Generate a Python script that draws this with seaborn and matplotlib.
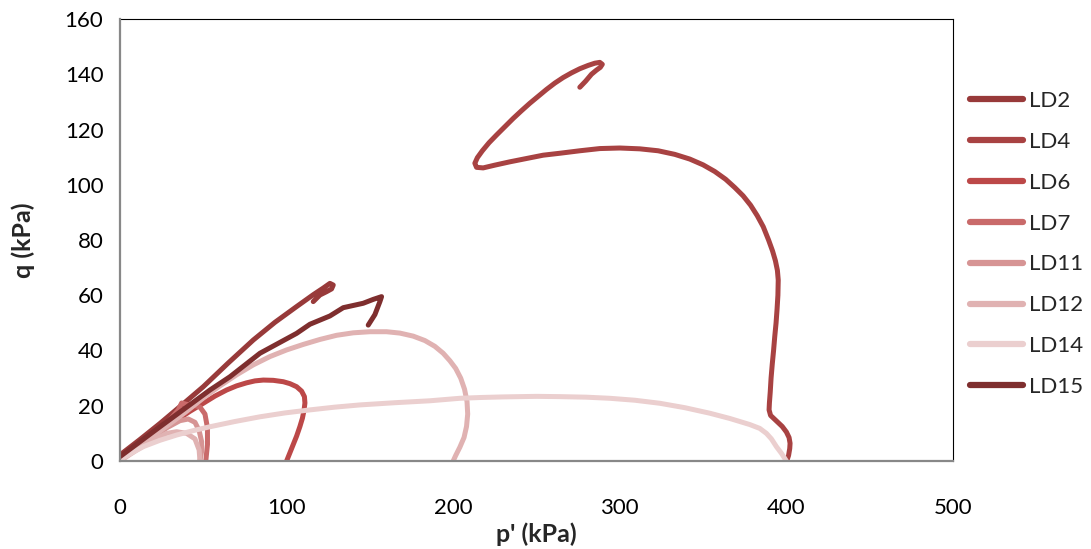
import numpy as np
import pandas as pd
import matplotlib
matplotlib.use("Agg")
import matplotlib.pyplot as plt
import seaborn as sns

# ---------------- data ----------------
series_names = ["LD2", "LD4", "LD6", "LD7", "LD11", "LD12", "LD14", "LD15"]
series_colors = ["#983a3a", "#a84242", "#bc4848", "#c96a6a", "#d69494",
                 "#e0b2b2", "#ebcfcf", "#7e2e2e"]

ld2_p = [0, 12, 24, 37, 50, 65, 80, 93, 106, 116, 122, 126, 128, 127, 124, 120, 116]
ld2_q = [2.2, 7.8, 13.6, 20.2, 26.9, 35.5, 43.8, 50.2, 55.9, 60.2, 62.6, 64.3, 63.7, 62.3, 61.3, 60.1, 57.7]

ld4_p = [400.2, 401.3, 402, 402.2, 401.6, 400, 397.5, 394, 390.5, 389.6, 389.8, 390.3, 390.8,
         391.5, 392.3, 393, 393.8, 394.4, 394.9, 395.1, 394.6, 393.4, 391.7, 389.3, 386.1,
         382.5, 378.5, 374, 369, 363.5, 357, 350, 342, 333, 323, 312, 300, 288, 276, 264,
         254, 244, 234, 225, 218, 214, 213, 214.5, 217.5, 221.5, 226, 231, 236, 241, 246,
         251, 256, 261, 266, 271, 276, 281, 285, 288, 289.5, 288.3, 286, 283, 279.5, 276]
ld4_q = [0, 2, 4.5, 6.4, 8.5, 10.5, 12.5, 14.5, 16.5, 18.5, 21, 25, 30,
         35, 40, 45, 50, 55, 60, 65.5, 69, 72.5, 76, 80, 84.8,
         88.8, 92.6, 96, 99, 102, 104.8, 107.2, 109.3, 111, 112.3, 113, 113.3, 113.1, 112.3, 111.4,
         110.7, 109.5, 108.3, 107.1, 106.1, 106.3, 107.8, 109.8, 112.3, 115.2, 118, 121, 124, 126.8, 129.5,
         132, 134.5, 136.8, 138.8, 140.5, 142, 143.2, 144, 144.3, 143.6, 142.5, 141.5, 140, 137.5, 135.3]

ld6_p = [0, 7, 14, 24, 34, 42, 50, 57, 64, 70, 76, 81, 86, 92, 98, 102, 106, 109, 110.7,
         111, 110.5, 109.5, 108, 106, 104, 102, 100]
ld6_q = [1, 4.3, 7.6, 11.5, 14.8, 18, 20.9, 23.5, 25.7, 27.2, 28.3, 29, 29.3, 29.2, 28.7, 28,
         26.9, 25.3, 23.3, 21, 18.5, 15.5, 12.5, 9, 6, 3, 0]

ld7_p = [0, 15, 30, 35, 37, 40, 44, 48, 51, 52.5, 52.5, 52, 51.5]
ld7_q = [1, 7.5, 15, 18.5, 21, 20.5, 20.2, 19.5, 17, 12, 6, 3, 0]

ld11_p = [0, 15, 28, 36, 41, 45, 47.5, 49, 49, 48]
ld11_q = [0.5, 6, 12, 14.6, 15.2, 14, 11, 7, 3.5, 0]

ld12_p = [0, 10, 20, 30, 40, 50, 60, 70, 80, 90, 100, 110, 120, 130, 140, 150, 160, 168, 176,
          183, 189, 194, 198, 201.5, 204.5, 206.8, 208.3, 208.7, 208, 206.5, 204, 201.5, 200]
ld12_q = [0.5, 4.5, 9, 13.5, 18, 22.8, 27.2, 31.2, 34.8, 37.8, 40.2, 42.2, 44, 45.5, 46.4,
          46.8, 46.8, 46.3, 45.2, 43.6, 41.5, 39, 36.3, 33.5, 30, 26, 21.5, 17, 12.5, 8.5, 5, 2, 0]
ld12b_p = [0, 10, 20, 28, 34, 40, 45, 47.5, 48]
ld12b_q = [0, 4, 7.5, 10, 10.6, 10, 8, 4, 0]

ld14_p = [0, 5, 14, 24, 34, 44, 54, 69, 84, 99, 114, 129, 144, 165, 186, 204, 217, 230, 250,
          264, 280, 294, 309, 324, 339, 354, 366, 378, 384, 388, 391, 394, 397, 400]
ld14_q = [0.4, 2.2, 5.2, 7.5, 9.4, 11, 12.4, 14.3, 16, 17.4, 18.5, 19.5, 20.3, 21.1, 21.8,
          22.7, 23, 23.2, 23.4, 23.3, 23.1, 22.7, 22, 20.9, 19.3, 17.3, 15.4, 13.2, 11.8,
          10, 8, 5.2, 2.8, 0]

ld15_p = [0, 24, 54, 66, 84, 106, 114, 126, 134, 146, 152, 157, 156, 153, 149]
ld15_q = [1.6, 12.4, 25.7, 30.5, 39, 46.2, 49.5, 52.5, 55.5, 57.1, 58.5, 59.5, 57.7, 53, 49.2]

x_ticks = [0, 100, 200, 300, 400, 500]
y_ticks = [0, 20, 40, 60, 80, 100, 120, 140, 160]
x_label = "p' (kPa)"
y_label = "q (kPa)"

# ---------------- build long table ----------------
parts = [
    ("LD2", "LD2a", ld2_p, ld2_q),
    ("LD4", "LD4a", ld4_p, ld4_q),
    ("LD6", "LD6a", ld6_p, ld6_q),
    ("LD7", "LD7a", ld7_p, ld7_q),
    ("LD11", "LD11a", ld11_p, ld11_q),
    ("LD12", "LD12a", ld12_p, ld12_q),
    ("LD12", "LD12b", ld12b_p, ld12b_q),
    ("LD14", "LD14a", ld14_p, ld14_q),
    ("LD15", "LD15a", ld15_p, ld15_q),
]
frames = []
for name, seg, p, q in parts:
    frames.append(pd.DataFrame({"p": p, "q": q, "series": name, "seg": seg}))
df = pd.concat(frames, ignore_index=True)

# ---------------- plot ----------------
sns.set_style("white")
plt.rcParams["font.family"] = ["Lato", "DejaVu Sans"]

fig = plt.figure(figsize=(10.91, 5.49), dpi=100)
ax = fig.add_axes([120 / 1091, 1 - 461 / 549, (953 - 120) / 1091, (461 - 19) / 549])

palette = dict(zip(series_names, series_colors))
sns.lineplot(data=df, x="p", y="q", hue="series", units="seg", estimator=None,
             sort=False, hue_order=series_names, palette=palette, linewidth=3.6,
             solid_capstyle="round", solid_joinstyle="round", ax=ax, legend=True)

ax.set_xlim(0, 500)
ax.set_ylim(0, 160)
ax.set_xticks(x_ticks)
ax.set_yticks(y_ticks)
ax.tick_params(axis="both", which="both", direction="out", length=5, width=1.2,
               color="#888888", labelsize=16, labelcolor="black")
ax.tick_params(axis="y", pad=7)
ax.tick_params(axis="x", pad=22)

for s in ["left", "bottom"]:
    ax.spines[s].set_color("#888888")
    ax.spines[s].set_linewidth(1.6)
for s in ["top", "right"]:
    ax.spines[s].set_color("#000000")
    ax.spines[s].set_linewidth(0.8)
ax.spines["left"].set_zorder(5)
ax.spines["bottom"].set_zorder(5)

ax.set_xlabel(x_label, fontsize=18, fontweight="bold", labelpad=3)
ax.set_ylabel(y_label, fontsize=18, fontweight="bold", labelpad=21)

handles, labels = ax.get_legend_handles_labels()
for h in handles:
    h.set_linewidth(4.5)
    h.set_solid_capstyle("round")
ax.legend(handles, labels, loc="center left", bbox_to_anchor=(1.0095, 0.491),
          frameon=False, fontsize=16, handlelength=2.4, handletextpad=0.25,
          labelspacing=0.94, borderaxespad=0)

fig.savefig("out.png", dpi=100)
